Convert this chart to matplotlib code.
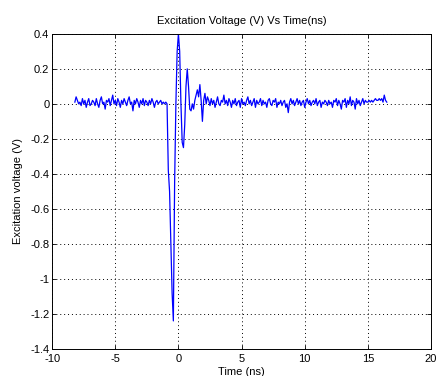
import matplotlib
matplotlib.use("Agg")
import matplotlib.pyplot as plt
from matplotlib.ticker import FuncFormatter

# sampled excitation pulse, 0.1 ns step starting at -8.2 ns
t_start = -8.2
t_step = 0.1

# baseline noise before the pulse (-8.2 .. -0.9 ns)
v_pre = [0.01, 0.04, 0.02, 0.00, 0.01, -0.01, 0.03, 0.00, 0.02, -0.02,
         0.01, 0.03, -0.01, 0.00, 0.02, 0.01, -0.01, 0.03, 0.00, -0.02,
         0.02, 0.04, 0.00, 0.01, -0.03, 0.02, 0.01, 0.03, -0.01, 0.02,
         0.05, 0.00, 0.02, -0.01, 0.03, 0.01, -0.02, 0.02, 0.00, 0.03,
         0.01, -0.01, 0.02, 0.04, 0.00, 0.01, -0.04, 0.02, 0.00, 0.03,
         0.01, -0.02, 0.02, 0.00, 0.03, -0.01, 0.02, 0.01, -0.01, 0.02,
         0.00, 0.03, 0.01, -0.02, 0.01, 0.02, 0.00, 0.01, 0.02, 0.00,
         0.01, 0.00, 0.01, 0.00]

# the pulse itself (-0.8 .. 2.3 ns)
v_pulse = [-0.38, -0.50, -0.80, -1.08, -1.24, -0.45, 0.00, 0.30, 0.40, 0.30,
           0.00, -0.22, -0.25, -0.12, 0.10, 0.20, 0.10, -0.03, -0.04, 0.00,
           -0.03, 0.02, 0.05, 0.08, 0.04, 0.11, 0.02, -0.10, 0.02, 0.06,
           0.00, 0.04]

# ringing / noise after the pulse (2.4 .. 16.5 ns)
v_post = [0.02, -0.01, 0.03, 0.00, 0.02, -0.02, 0.01, 0.04, 0.00, -0.01,
          0.02, 0.01, 0.05, 0.00, 0.02, -0.01, 0.03, 0.01, -0.02, 0.02,
          0.00, 0.03, -0.01, 0.01, 0.02, -0.02, 0.03, 0.00, 0.01, -0.01,
          0.02, 0.04, 0.00, 0.02, -0.01, 0.01, 0.03, -0.02, 0.02, 0.00,
          0.01, 0.03, -0.01, 0.02, 0.00, 0.01, -0.02, 0.02, 0.03, 0.00,
          -0.01, 0.02, 0.01, 0.03, -0.02, 0.01, 0.00, 0.02, -0.01, 0.01,
          0.02, -0.02, 0.00, -0.05, 0.01, 0.03, 0.00, 0.02, -0.01, 0.01,
          0.03, 0.00, 0.02, -0.01, 0.01, 0.02, -0.02, 0.01, 0.03, 0.00,
          0.02, -0.01, 0.01, 0.02, 0.00, 0.03, -0.01, 0.01, 0.02, -0.02,
          0.01, 0.00, 0.02, 0.01, -0.01, 0.02, 0.00, 0.01, -0.02, 0.02,
          0.01, 0.03, -0.01, 0.02, 0.00, -0.03, 0.02, 0.01, 0.03, -0.02,
          0.02, 0.00, 0.04, -0.01, 0.02, 0.01, -0.03, 0.03, 0.00, 0.02,
          -0.01, 0.01, 0.03, 0.00, 0.02, 0.01, 0.01, 0.02, 0.01, 0.02,
          0.01, 0.02, 0.03, 0.02, 0.02, 0.03, 0.02, 0.03, 0.01, 0.05,
          0.02, 0.01]

voltage = v_pre + v_pulse + v_post
time_ns = [t_start + t_step * i for i in range(len(voltage))]

x_ticks = [-10, -5, 0, 5, 10, 15, 20]
y_ticks = [-1.4, -1.2, -1.0, -0.8, -0.6, -0.4, -0.2, 0, 0.2, 0.4]

plt.rcParams["font.family"] = ["Liberation Sans", "DejaVu Sans"]
plt.rcParams["font.size"] = 8

fig = plt.figure(figsize=(4.38, 3.76), dpi=100)
ax = fig.add_axes([0.119, 0.072, 0.865, 0.838])
ax.plot(time_ns, voltage, color="blue", linewidth=0.9)

ax.set_xlim(-10, 20)
ax.set_ylim(-1.4, 0.4)
ax.set_xticks(x_ticks)
ax.set_yticks(y_ticks)
ax.yaxis.set_major_formatter(FuncFormatter(lambda v, p: f"{v:g}"))
ax.xaxis.set_major_formatter(FuncFormatter(lambda v, p: f"{v:g}"))
ax.tick_params(direction="in", top=True, right=True, length=3, width=0.6)
ax.tick_params(axis="x", pad=4)
ax.tick_params(axis="y", pad=2)
ax.grid(True, linestyle=(0, (1, 3)), color="black", linewidth=0.7)
for s in ax.spines.values():
    s.set_linewidth(0.7)

ax.set_title("Excitation Voltage (V) Vs Time(ns)", fontsize=8, pad=7)
ax.set_xlabel("Time (ns)", labelpad=2)
ax.set_ylabel("Excitation voltage (V)", labelpad=5)

fig.savefig("out.png", dpi=100)
